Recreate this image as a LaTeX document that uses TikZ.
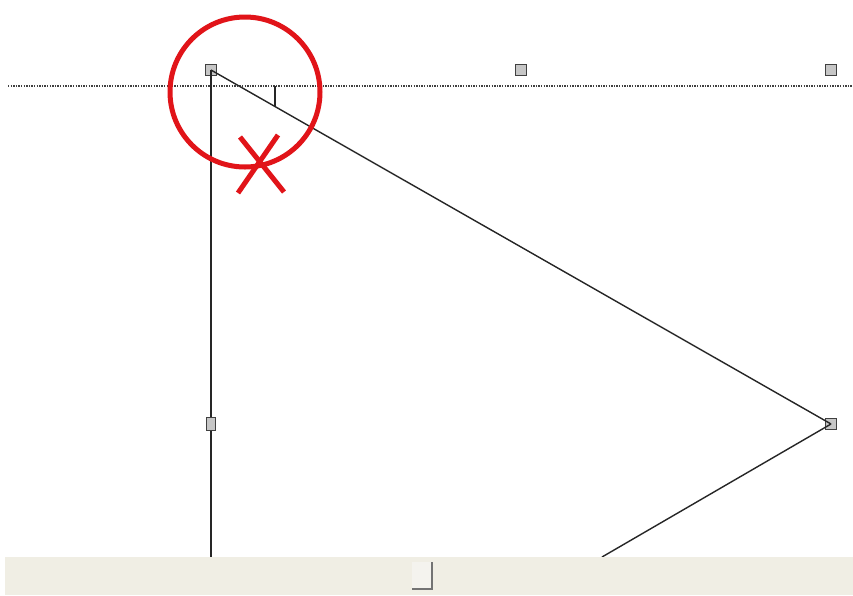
\documentclass[tikz,border=0pt]{standalone}
\definecolor{barbeige}{RGB}{240,238,228}
\definecolor{thumbface}{RGB}{244,243,238}
\definecolor{marker}{RGB}{225,20,25}
\tikzset{
    handle/.style={draw=black!75, fill=gray!45, line width=1.3pt, minimum size=11pt, inner sep=0pt},
    edge/.style={line width=1.4pt, black!85},
}
\begin{document}
\begin{tikzpicture}[x=1pt, y=-1pt]
    \useasboundingbox (0,0) rectangle (853,595);
    \fill[white] (0,0) rectangle (853,595);
    % guide line
    \draw[black!75, line width=1.3pt, dash pattern=on 1.3pt off 1.3pt] (8,86) -- (853,86);
    % handles
    \node[handle] (top) at (211,70) {};
    \node[handle] (mid) at (521,70) {};
    \node[handle] (right) at (831,70) {};
    \node[handle, minimum width=9pt, minimum height=13pt] (side) at (211,424) {};
    \node[handle] (tip) at (831,424) {};
    \coordinate (bottom) at (211,557);
    \coordinate (foot) at (602,557);
    % lines
    \draw[edge] (top.center) -- (side);
    \draw[edge] (side) -- (bottom);
    \draw[edge] (top.center) -- (tip.center);
    \draw[edge] (tip.center) -- (foot);
    \draw[edge] (275,86) -- (275,106);
    % marker
    \draw[marker, line width=5pt] (245,92) circle (75);
    \draw[marker, line width=5pt] (240,137) -- (284,192);
    \draw[marker, line width=5pt] (278,135) -- (238,193);
    % scroll bar
    \fill[barbeige] (5,557) rectangle (853,595);
    \fill[thumbface] (412,562) rectangle (433,590);
    \draw[black!55, line width=1.5pt] (432,562) -- (432,589) -- (412,589);
\end{tikzpicture}
\end{document}
